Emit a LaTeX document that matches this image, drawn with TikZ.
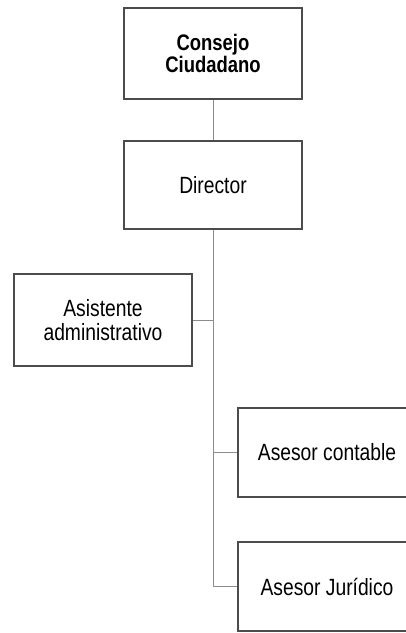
\documentclass[tikz,border=0pt]{standalone}
\usepackage{fontspec}
\setmainfont[FakeStretch=0.82]{Liberation Sans}
\usetikzlibrary{shadows}

\begin{document}
\begin{tikzpicture}[x=1pt, y=-1pt, font=\fontsize{23.5}{24}\selectfont,
  cargo/.style = {draw=black!70, line width=2.6pt, fill=white, minimum width=178pt, align=center,
    drop shadow={opacity=0.3, shadow xshift=1.2pt, shadow yshift=-1.2pt}},
  linea/.style = {draw=black!45, line width=0.9pt}]
%\draw[help lines] (0,0) grid (406,633);
\useasboundingbox (0,0) rectangle (406,633);
\node (consejo) [cargo, minimum height=91pt, font=\fontsize{22.5}{22}\selectfont\bfseries] at (213,53.5) {Consejo\\Ciudadano};
\node (director) [cargo, minimum height=88pt] at (213,185) {Director};
\node (asistente) [cargo, minimum height=92pt] at (103,320) {Asistente\\administrativo};
\node (contable) [cargo, minimum height=89pt] at (327,452.5) {Asesor contable};
\node (juridico) [cargo, minimum height=89pt] at (327,586.5) {Asesor Jur\'idico};
\path[linea]
(consejo) edge (director)
(director.south) edge[to path={|- (\tikztotarget)}] (asistente.east)
(director.south) edge[to path={|- (\tikztotarget)}] (contable.west)
(director.south) edge[to path={|- (\tikztotarget)}] (juridico.west);
\end{tikzpicture}
\end{document}
